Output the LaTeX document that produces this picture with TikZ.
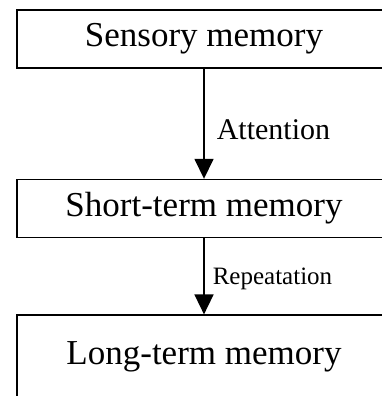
\documentclass[tikz,border=0pt]{standalone}
\usepackage{fontspec}
\setmainfont{Liberation Serif}
\usetikzlibrary{arrows.meta, positioning}
\tikzstyle{block} = [rectangle, draw, line width=1.6pt, inner sep=0pt, minimum width=374pt, minimum height=58pt, font=\fontsize{35}{42}\selectfont]
\tikzstyle{line} = [draw, line width=1.6pt, -{Triangle[length=20pt,width=19pt]}]
\tikzstyle{lbl} = [anchor=base west, inner sep=0pt]

\begin{document}
\begin{tikzpicture}
	% page frame, boxes run past the right and bottom edge
	\clip (0,0) rectangle (382pt,-396pt);

	\node[block] (sensory) at (204pt,-39pt) {Sensory memory};
	\node[block, below=110pt of sensory] (short) {Short-term memory};
	\node[block, below=76pt of short, minimum height=84pt] (long) {Long-term memory};

	\path [line] (sensory) -- node[lbl, pos=0.64, xshift=12pt, font=\fontsize{30}{36}\selectfont] (attn) {Attention} (short);
	\path [line] (short) -- node[lbl, pos=0.6, xshift=8pt, font=\fontsize{25}{30}\selectfont] (rep) {Repeatation} (long);
\end{tikzpicture}
\end{document}
